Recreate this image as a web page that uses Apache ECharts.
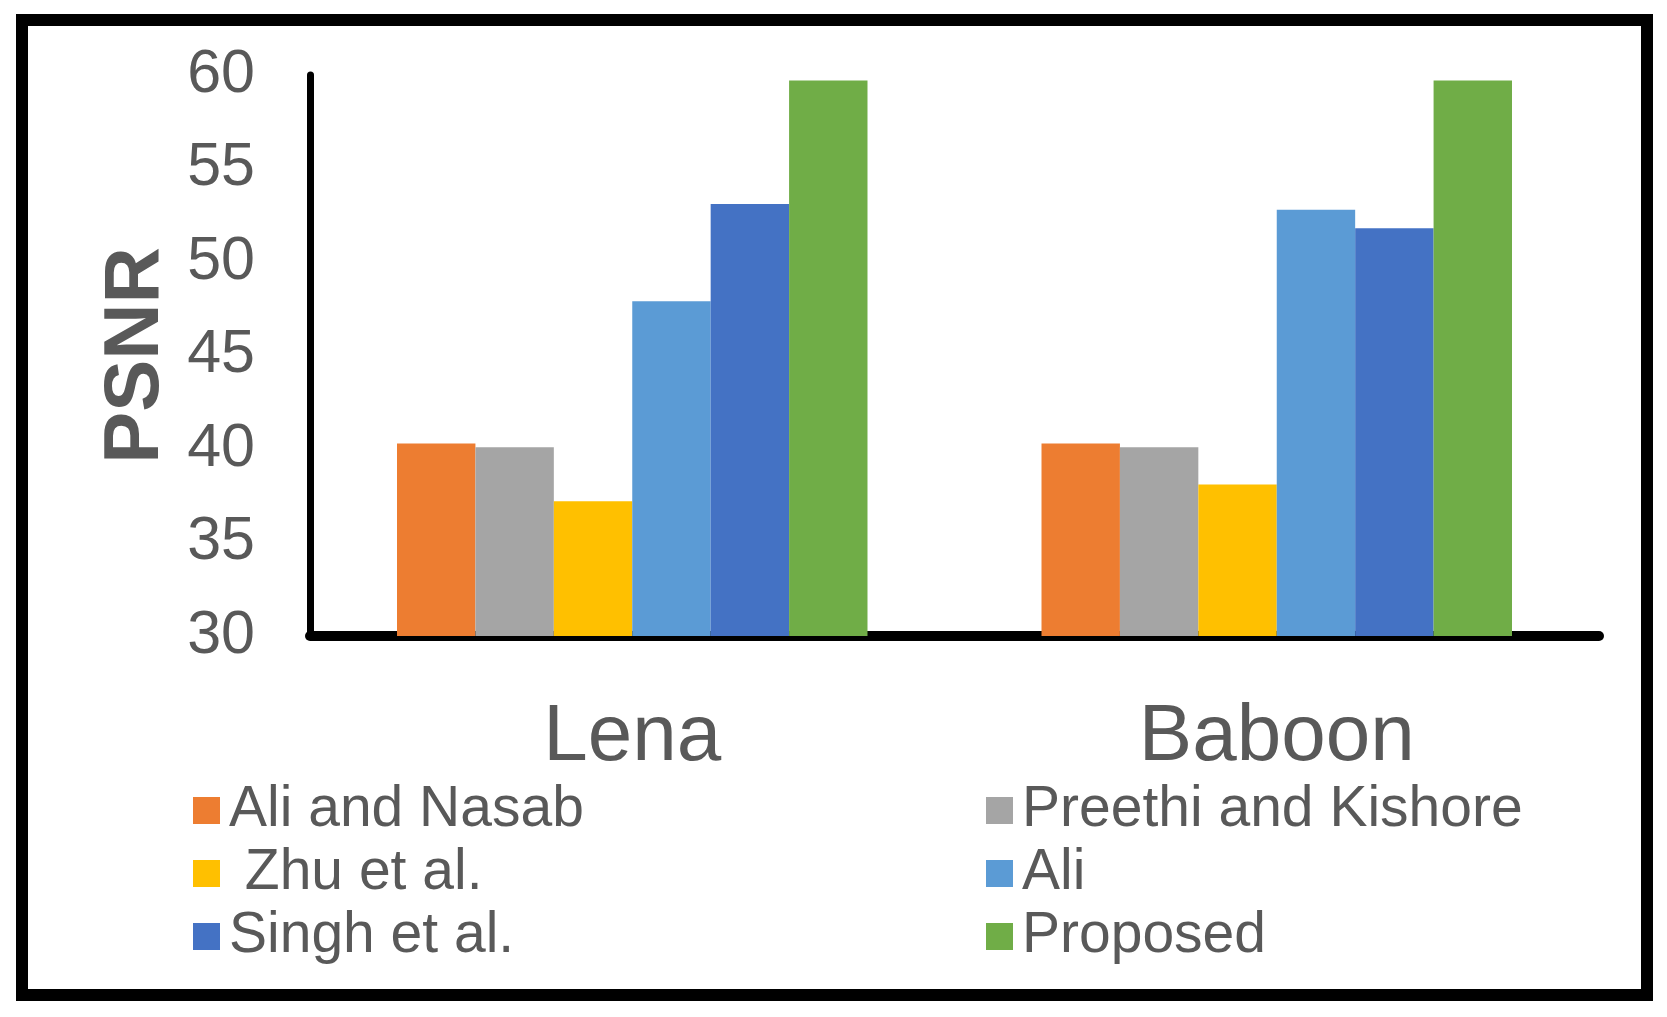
<!DOCTYPE html>
<html>
	<head>
		<meta charset="UTF-8">
		<title>PSNR</title>
		<script src="https://cdn.jsdelivr.net/npm/echarts@6/dist/echarts.min.js"></script>
		<style type="text/css">
		  html, body{
		  	margin: 0;
		  	padding: 0;
		  	background: #fff;
		  }
		  #chart{
		  	width: 1667px;
		  	height: 1017px;
		  }
		</style>
	</head>
	<body>
	  <div id="chart"></div>
	  <script type="text/javascript">
	  	var categories = ['Lena', 'Baboon'];
	  	var seriesNames = ['Ali and Nasab', 'Preethi and Kishore', 'Zhu et al.', 'Ali', 'Singh et al.', 'Proposed'];
	  	var aliNasab = [40.3, 40.3];
	  	var preethiKishore = [40.1, 40.1];
	  	var zhu = [37.2, 38.1];
	  	var ali = [47.9, 52.8];
	  	var singh = [53.1, 51.8];
	  	var proposed = [59.7, 59.7];
	  	var colors = ['#ED7D31', '#A5A5A5', '#FFC000', '#5B9BD5', '#4472C4', '#70AD47'];
	  	var yTicks = [30, 35, 40, 45, 50, 55, 60];

	  	var values = [aliNasab, preethiKishore, zhu, ali, singh, proposed];
	  	var font = "'Liberation Sans', Arial, sans-serif";
	  	var textColor = '#595959';

	  	var series = seriesNames.map(function(name, i){
	  	  return {
	  	  	name: name,
	  	  	type: 'bar',
	  	  	data: values[i],
	  	  	itemStyle: { color: colors[i] },
	  	  	barGap: '0%',
	  	  	barCategoryGap: '27%'
	  	  };
	  	});

	  	function legendBox(names, left){
	  	  return {
	  	  	orient: 'vertical',
	  	  	left: left,
	  	  	top: 777,
	  	  	data: names,
	  	  	icon: 'rect',
	  	  	itemWidth: 27,
	  	  	itemHeight: 27,
	  	  	itemGap: 6,
	  	  	selectedMode: false,
	  	  	formatter: function(name){
	  	  	  // the original has a stray space before this one
	  	  	  return name === 'Zhu et al.' ? ' ' + name : name;
	  	  	},
	  	  	textStyle: {
	  	  	  fontFamily: font,
	  	  	  fontSize: 57,
	  	  	  lineHeight: 57,
	  	  	  color: textColor,
	  	  	  padding: [0, 0, 0, 4]
	  	  	}
	  	  };
	  	}

	  	var chart = echarts.init(document.getElementById('chart'));
	  	chart.setOption({
	  	  animation: false,
	  	  backgroundColor: '#fff',
	  	  grid: {
	  	  	left: 310,
	  	  	right: 68,
	  	  	top: 75,
	  	  	bottom: 381
	  	  },
	  	  legend: [
	  	  	legendBox([seriesNames[0], seriesNames[2], seriesNames[4]], 188),
	  	  	legendBox([seriesNames[1], seriesNames[3], seriesNames[5]], 981)
	  	  ],
	  	  xAxis: {
	  	  	type: 'category',
	  	  	data: categories,
	  	  	axisTick: { show: false },
	  	  	axisLine: {
	  	  	  lineStyle: { color: '#000', width: 10 }
	  	  	},
	  	  	axisLabel: {
	  	  	  margin: 62,
	  	  	  fontFamily: font,
	  	  	  fontSize: 80,
	  	  	  lineHeight: 80,
	  	  	  color: textColor
	  	  	}
	  	  },
	  	  yAxis: {
	  	  	type: 'value',
	  	  	min: yTicks[0],
	  	  	max: yTicks[yTicks.length - 1],
	  	  	interval: 5,
	  	  	name: 'PSNR',
	  	  	nameLocation: 'middle',
	  	  	nameRotate: 90,
	  	  	nameGap: 135,
	  	  	nameTextStyle: {
	  	  	  fontFamily: font,
	  	  	  fontSize: 78,
	  	  	  fontWeight: 'bold',
	  	  	  color: textColor
	  	  	},
	  	  	splitLine: { show: false },
	  	  	axisTick: { show: false },
	  	  	axisLine: {
	  	  	  show: true,
	  	  	  lineStyle: { color: '#000', width: 7 }
	  	  	},
	  	  	axisLabel: {
	  	  	  margin: 55,
	  	  	  fontFamily: font,
	  	  	  fontSize: 61,
	  	  	  color: textColor
	  	  	}
	  	  },
	  	  graphic: [{
	  	  	type: 'rect',
	  	  	shape: { x: 22, y: 20, width: 1625, height: 975 },
	  	  	style: { fill: 'none', stroke: '#000', lineWidth: 12 },
	  	  	z: 100
	  	  }],
	  	  series: series
	  	});
	  </script>
	</body>
</html>
